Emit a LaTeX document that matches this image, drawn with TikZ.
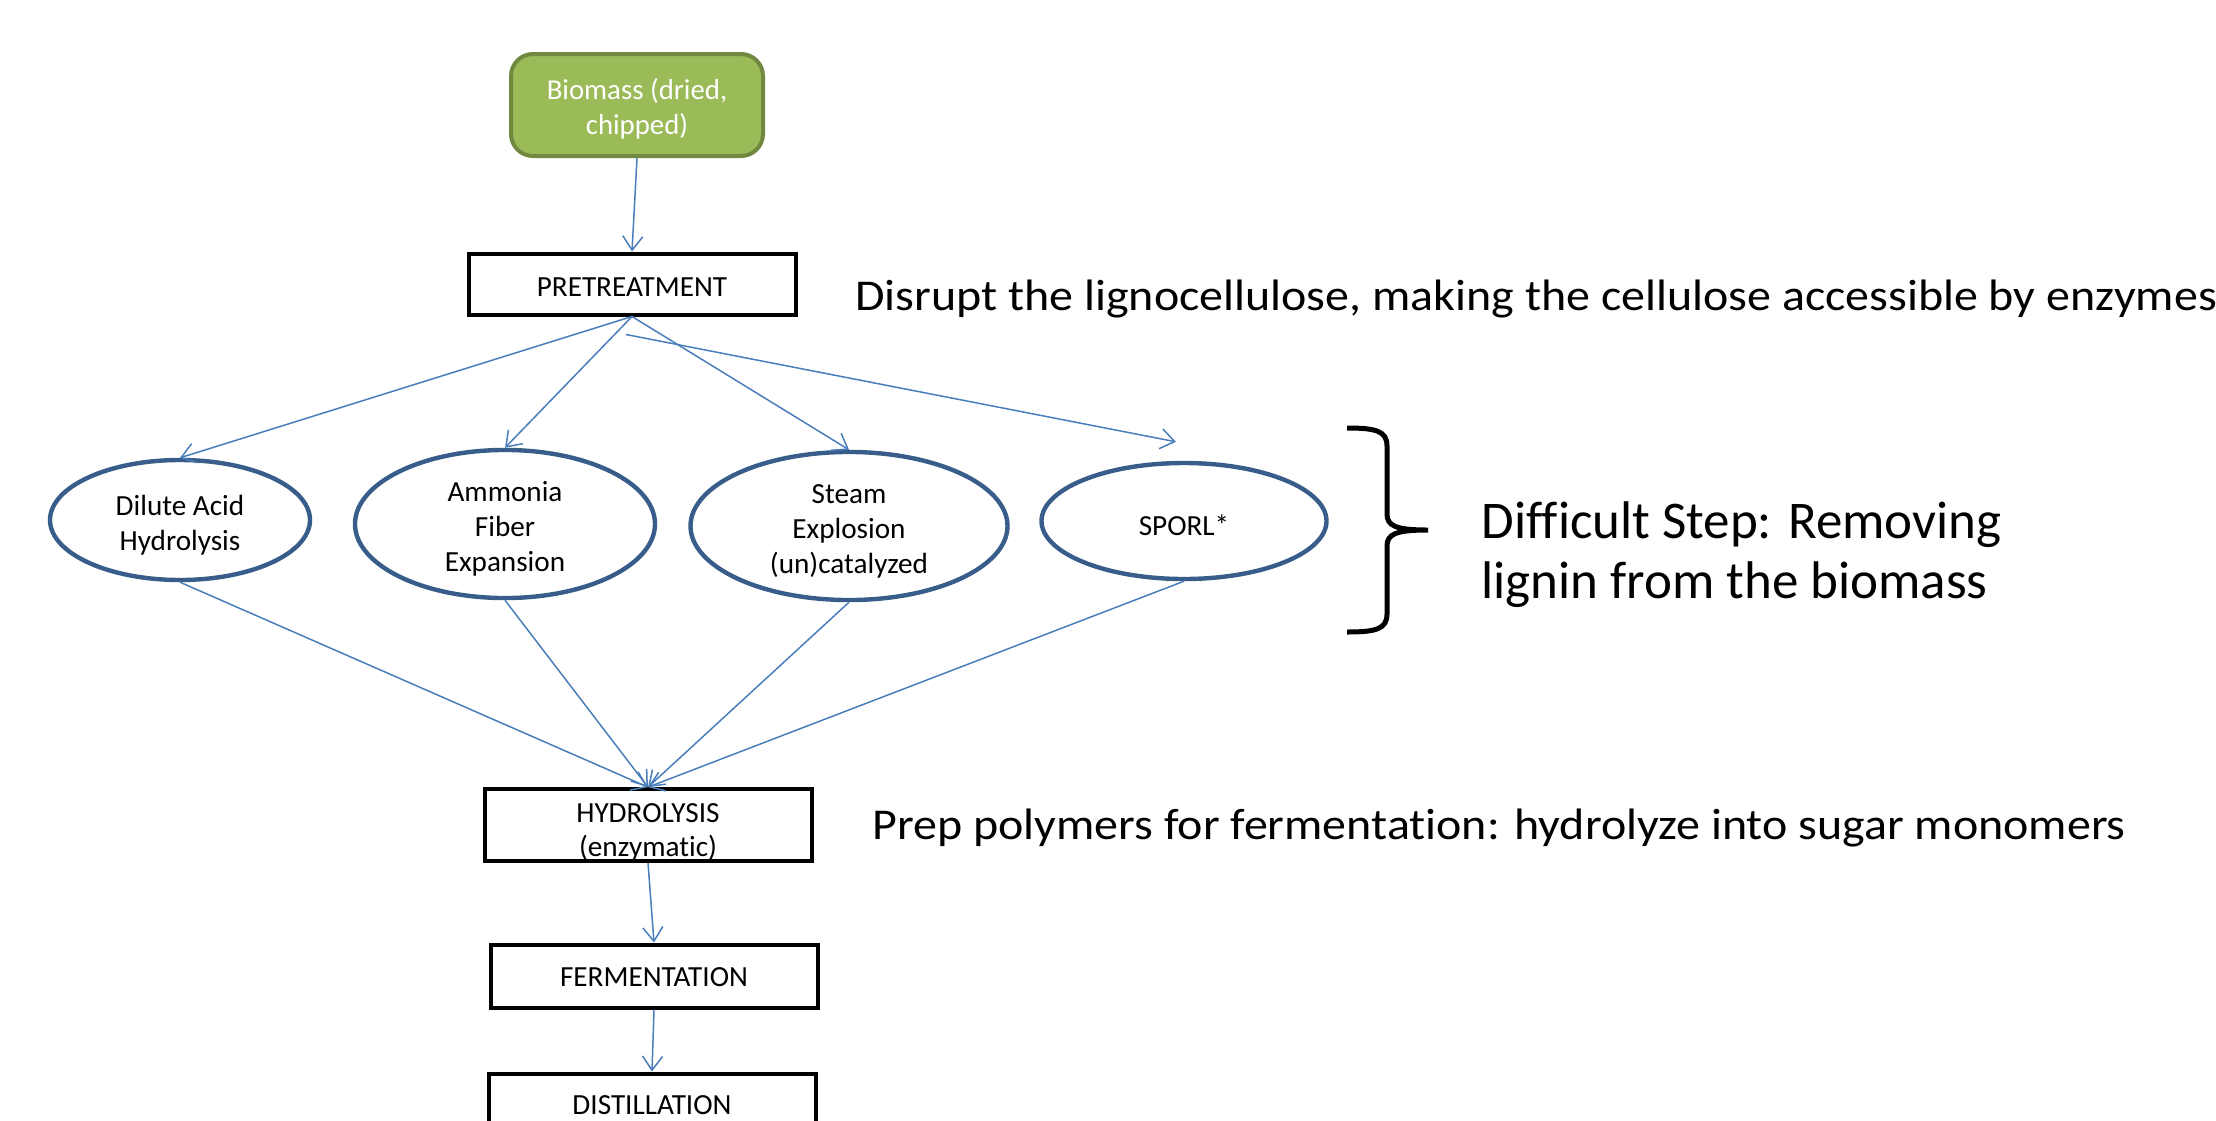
\documentclass[tikz,border=0pt]{standalone}
\usepackage{fontspec}
\setmainfont[Ligatures=NoCommon]{Carlito}
\usetikzlibrary{shapes.geometric,arrows.meta,positioning,calc}
\definecolor{flowblue}{HTML}{4A7EBB}
\definecolor{ovalblue}{HTML}{385D8A}
\definecolor{leafgreen}{HTML}{9BBB59}
\definecolor{leafdark}{HTML}{71893F}

\begin{document}
\begin{tikzpicture}[x=0.5pt,y=-0.5pt,
		stepbox/.style={draw=black,line width=2pt,minimum width=163.5pt,minimum height=30.5pt,inner sep=0pt,font=\fontsize{14.6}{17}\selectfont,align=center},
		method/.style={ellipse,draw=ovalblue,line width=2.2pt,inner sep=0pt,font=\fontsize{14.6}{17.5}\selectfont,align=center},
		note/.style={anchor=base west,align=left,inner sep=0pt},
		flow/.style={->,draw=flowblue,line width=0.75pt},
		>={Straight Barb[length=7pt,width=10pt]}]
	\useasboundingbox (0,0) rectangle (2216,1120);
	% feedstock and main steps
	\node[draw=leafdark,fill=leafgreen,line width=2pt,rounded corners=11pt,minimum width=126pt,minimum height=51pt,text=white,align=center,font=\fontsize{14.4}{17.5}\selectfont] (bio) at (637,105) {\rule{0pt}{14.5pt}Biomass (dried,\\chipped)};
	\node[stepbox] (pre) at (632,284) {\rule{0pt}{12.2pt}PRETREATMENT};
	\node[stepbox] (hyd) at (648,825) {\rule{0pt}{16.5pt}HYDROLYSIS\\(enzymatic)};
	\node[stepbox,minimum height=31.5pt] (ferm) at (654,976) {\rule{0pt}{10.8pt}FERMENTATION};
	\node[stepbox,minimum height=31.5pt] (dist) at (652,1105) {DISTILLATION};
	% pretreatment methods
	\node[method,minimum width=130pt,minimum height=60pt] (dil) at (180,520) {\rule{0pt}{15pt}Dilute Acid\\Hydrolysis};
	\node[method,minimum width=150pt,minimum height=65.5pt] (amm) at (505,524) {\rule{0pt}{15pt}Ammonia\\Fiber\\Expansion};
	\node[method,minimum width=158.5pt,minimum height=65.5pt] (stm) at (849,526) {\rule{0pt}{15pt}Steam\\Explosion\\(un)catalyzed};
	\node[method,minimum width=142.5pt,minimum height=58pt] (spo) at (1184,521) {\rule{0pt}{15pt}SPORL*};
	% notes
	\node[note,font=\fontsize{22}{26}\selectfont] (n1) at (855,310) {\scalebox{1.09}[1]{Disrupt the lignocellulose, making the cellulose accessible by enzymes}};
	\node[note,anchor=west,font=\fontsize{26.5}{30}\selectfont] (n2) at (1481,555) {Difficult Step: Removing\\lignin from the biomass};
	\node[note,font=\fontsize{22}{26}\selectfont] (n3) at (872,839) {\scalebox{1.09}[1]{Prep polymers for fermentation: hydrolyze into sugar monomers}};
	% brace
	\draw[line width=2.5pt] (1347,428) .. controls (1376,428) and (1387,431) .. (1387,446) -- (1387,514) .. controls (1387,526) and (1396,530) .. (1428,530) .. controls (1396,530) and (1387,534) .. (1387,546) -- (1387,614) .. controls (1387,629) and (1376,632) .. (1347,632);
	% arrows
	\draw[flow] (bio.south) -- (pre.north);
	\foreach \m in {dil,amm,stm} {
		\draw[flow] (pre.south) -- (\m.north);
		\draw[flow] (\m.south) -- (hyd.north);
	}
	\draw[flow] ([xshift=-3pt,yshift=-9pt]pre.south) -- ([xshift=-4pt,yshift=9.5pt]spo.north);
	\draw[flow] (spo.south) -- (hyd.north);
	\draw[flow] (hyd.south) -- (ferm.north);
	\draw[flow] (ferm.south) -- (dist.north);
\end{tikzpicture}
\end{document}
